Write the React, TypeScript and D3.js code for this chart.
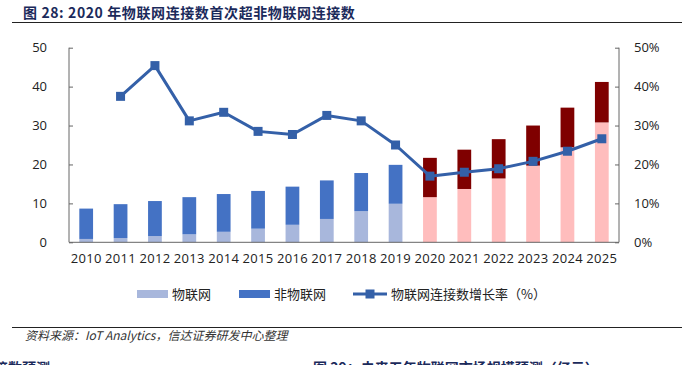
import React, { useEffect, useRef } from "react";
import * as d3 from "d3";

const years = ["2010","2011","2012","2013","2014","2015","2016","2017","2018","2019","2020","2021","2022","2023","2024","2025"];
const iot = [0.86, 1.1, 1.6, 2.05, 2.7, 3.5, 4.5, 6.0, 8.0, 9.9, 11.6, 13.7, 16.4, 19.7, 24.4, 30.8];
const nonIot = [7.8, 8.7, 9.0, 9.55, 9.7, 9.7, 9.8, 9.9, 9.8, 10.0, 10.1, 10.1, 10.1, 10.3, 10.2, 10.4];
const growth: (number | null)[] = [null, 37.5, 45.4, 31.2, 33.4, 28.5, 27.7, 32.6, 31.2, 25.0, 17.0, 18.0, 18.9, 20.8, 23.4, 26.6];
const forecastFrom = "2020";
const leftTicks = [0, 10, 20, 30, 40, 50];
const rightTicks = [0, 10, 20, 30, 40, 50];

const W = 694, H = 365;
const L = 69, R = 619, T = 47.7, B = 242.3;
const C_IOT = "#a8b7dc", C_NON = "#4472c4", C_IOT_F = "#ffbdbd", C_NON_F = "#7f0000", C_LINE = "#3460a8";
const AX = "#666666";
const NUM_FONT = "'Open Sans', 'Liberation Sans', sans-serif";
const CJK = "'Noto Sans CJK SC', sans-serif";

export default function App() {
  const ref = useRef<SVGSVGElement>(null);
  useEffect(() => {
    const svg = d3.select(ref.current);
    svg.selectAll("*").remove();
    const x = d3.scaleBand<string>().domain(years).range([L, R]).paddingInner(0.6).paddingOuter(0.3);
    const y = d3.scaleLinear().domain([0, 50]).range([B, T]);
    const y2 = d3.scaleLinear().domain([0, 50]).range([B, T]);
    const fIdx = years.indexOf(forecastFrom);

    // title
    svg.append("text").attr("x", 23).attr("y", 18).attr("font-family", CJK).attr("font-weight", 700)
      .attr("font-size", 14).attr("letter-spacing", "0.6px").attr("fill", "#1b2a5b")
      .text("图 28:  2020 年物联网连接数首次超非物联网连接数");
    svg.append("line").attr("x1", 12).attr("x2", 682).attr("y1", 22.5).attr("y2", 22.5).attr("stroke", "#222").attr("stroke-width", 1.2);

    // bars
    const g = svg.append("g");
    years.forEach((yr, i) => {
      const f = i >= fIdx;
      g.append("rect").attr("x", x(yr)!).attr("width", x.bandwidth())
        .attr("y", y(iot[i])).attr("height", y(0) - y(iot[i]))
        .attr("fill", f ? C_IOT_F : C_IOT);
      g.append("rect").attr("x", x(yr)!).attr("width", x.bandwidth())
        .attr("y", y(iot[i] + nonIot[i])).attr("height", y(iot[i]) - y(iot[i] + nonIot[i]))
        .attr("fill", f ? C_NON_F : C_NON);
    });

    // axes
    const axL = svg.append("g").attr("transform", `translate(${L},0)`)
      .call(d3.axisRight(y).tickValues(leftTicks).tickSize(4).tickFormat(() => ""));
    axL.selectAll("line,path").attr("stroke", AX);
    axL.select(".domain").attr("d", `M0,${T}V${B}`);
    leftTicks.forEach((t) => {
      svg.append("text").attr("x", 47).attr("y", y(t)).attr("dy", "0.35em").attr("text-anchor", "end")
        .attr("font-family", NUM_FONT).attr("font-size", 13).attr("fill", "#222").text(String(t));
    });
    const axR = svg.append("g").attr("transform", `translate(${R},0)`)
      .call(d3.axisLeft(y2).tickValues(rightTicks).tickSize(4).tickFormat(() => ""));
    axR.selectAll("line,path").attr("stroke", AX);
    axR.select(".domain").attr("d", `M0,${T}V${B}`);
    rightTicks.forEach((t) => {
      svg.append("text").attr("x", 634).attr("y", y2(t)).attr("dy", "0.35em").attr("text-anchor", "start")
        .attr("font-family", NUM_FONT).attr("font-size", 13).attr("fill", "#222").text(`${t}%`);
    });
    const axB = svg.append("g").attr("transform", `translate(0,${B})`)
      .call(d3.axisBottom(x).tickSize(0).tickPadding(11));
    axB.select(".domain").attr("stroke", AX).attr("d", `M${L},0H${R}`);
    axB.selectAll("text").attr("font-family", NUM_FONT).attr("font-size", 13).attr("fill", "#222")
      .attr("letter-spacing", "0.3px");

    // line
    const pts = years.map((yr, i) => ({ yr, v: growth[i] })).filter((d) => d.v != null) as { yr: string; v: number }[];
    const cx = (yr: string) => x(yr)! + x.bandwidth() / 2;
    svg.append("path").datum(pts)
      .attr("d", d3.line<{ yr: string; v: number }>().x((d) => cx(d.yr)).y((d) => y2(d.v)))
      .attr("fill", "none").attr("stroke", C_LINE).attr("stroke-width", 3).attr("stroke-linejoin", "round");
    svg.append("g").selectAll("rect").data(pts).join("rect")
      .attr("x", (d) => cx(d.yr) - 4.5).attr("y", (d) => y2(d.v) - 4.5).attr("width", 9).attr("height", 9)
      .attr("fill", C_LINE);

    // legend
    const lg = svg.append("g").attr("font-family", CJK).attr("font-size", 13).attr("fill", "#222");
    const ly = 294;
    lg.append("rect").attr("x", 137).attr("y", ly - 4).attr("width", 31).attr("height", 8).attr("fill", C_IOT);
    lg.append("text").attr("x", 172).attr("y", ly).attr("dy", "0.35em").text("物联网");
    lg.append("rect").attr("x", 239).attr("y", ly - 4).attr("width", 31).attr("height", 8).attr("fill", C_NON);
    lg.append("text").attr("x", 274).attr("y", ly).attr("dy", "0.35em").text("非物联网");
    lg.append("line").attr("x1", 353).attr("x2", 387).attr("y1", ly).attr("y2", ly).attr("stroke", C_LINE).attr("stroke-width", 3);
    lg.append("rect").attr("x", 370 - 4.5).attr("y", ly - 4.5).attr("width", 9).attr("height", 9).attr("fill", C_LINE);
    lg.append("text").attr("x", 391).attr("y", ly).attr("dy", "0.35em").text("物联网连接数增长率（%）");

    // source
    svg.append("line").attr("x1", 12).attr("x2", 682).attr("y1", 327.5).attr("y2", 327.5).attr("stroke", "#222").attr("stroke-width", 1.2);
    svg.append("text").attr("x", 25).attr("y", 340).attr("font-family", CJK).attr("font-size", 12)
      .attr("font-style", "italic").attr("fill", "#333").text("资料来源：IoT Analytics，信达证券研发中心整理");

    // cut-off next-figure captions (clipped at the page edge, as in the reference)
    svg.append("text").attr("x", 50).attr("y", 373).attr("text-anchor", "end").attr("font-family", CJK)
      .attr("font-weight", 700).attr("font-size", 14).attr("fill", "#1b2a5b").text("图 27：物联网连接数预测");
    svg.append("text").attr("x", 313).attr("y", 373).attr("font-family", CJK)
      .attr("font-weight", 700).attr("font-size", 14).attr("fill", "#1b2a5b").text("图 29：未来五年物联网市场规模预测（亿元）");
  }, []);
  return (
    <svg ref={ref} width={W} height={H} style={{ position: "absolute", left: 0, top: 0, background: "#fff" }} />
  );
}
